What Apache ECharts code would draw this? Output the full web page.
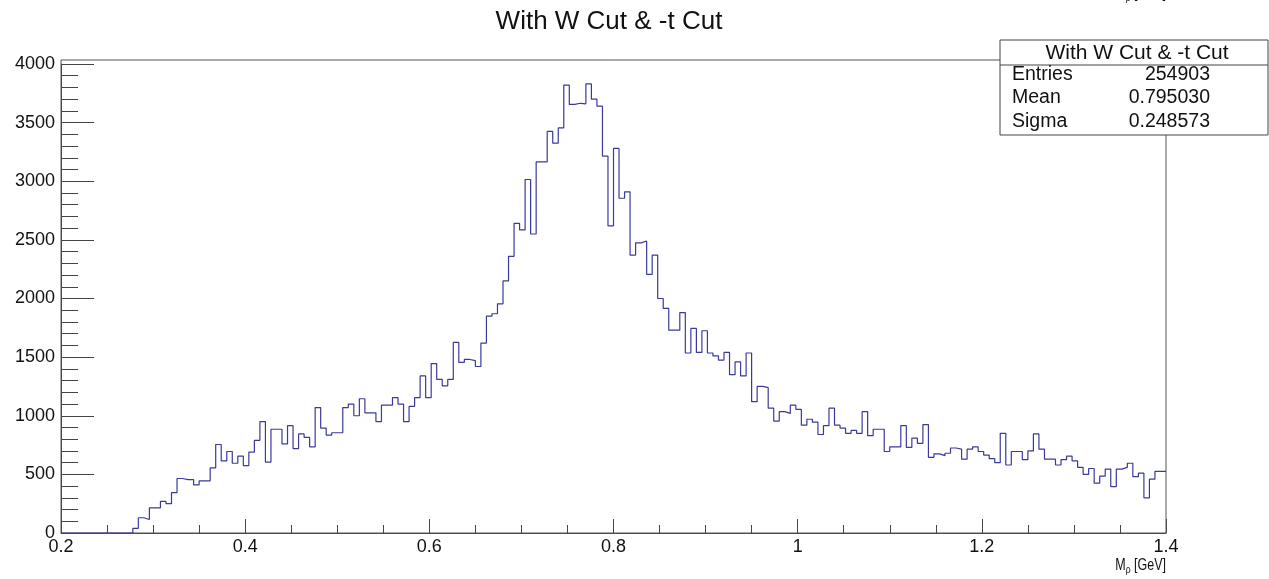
<!DOCTYPE html>
<html>
<head>
<meta charset="utf-8">
<title>With W Cut &amp; -t Cut</title>
<script src="https://cdn.jsdelivr.net/npm/echarts@6/dist/echarts.min.js"></script>
<style>
  html, body { margin: 0; padding: 0; background: #fff; }
  #chart { width: 1269px; height: 579px; }
</style>
</head>
<body>
<div id="chart"></div>
<script>
// histogram binning: 200 bins from 0.2 to 1.4 GeV
const binStart = 0.2;
const binEnd = 1.4;
const binWidth = 0.006;

const counts = [
  0, 0, 0, 0, 0, 0, 0, 0, 0, 0, 0, 0, 0,
  40, 130, 115, 215, 215, 270, 250, 345, 465, 455, 455, 410, 445, 445,
  555, 755, 615, 695, 595, 655, 575, 690, 790, 950, 605, 885, 885, 760,
  915, 720, 845, 815, 735, 1070, 895, 835, 855, 855, 1070, 1100, 1000,
  1145, 1025, 1025, 950, 1090, 1090, 1155, 1100, 950, 1080, 1155, 1340,
  1155, 1445, 1310, 1255, 1310, 1625, 1455, 1480, 1470, 1420, 1620, 1850,
  1870, 1955, 2150, 2360, 2640, 2585, 3015, 2550, 3165, 3165, 3425, 3325,
  3455, 3820, 3655, 3665, 3660, 3830, 3700, 3640, 3215, 2620, 3280, 2855,
  2910, 2370, 2475, 2490, 2205, 2370, 2000, 1915, 1730, 1730, 1880, 1535,
  1745, 1540, 1725, 1535, 1510, 1475, 1540, 1350, 1460, 1340, 1535, 1120,
  1250, 1240, 1065, 955, 1035, 1020, 1090, 1055, 920, 970, 945, 840, 915,
  1065, 920, 895, 850, 875, 850, 1035, 830, 885, 885, 695, 735, 735, 915,
  730, 810, 765, 925, 645, 675, 660, 680, 725, 715, 630, 715, 735, 695,
  665, 635, 600, 850, 580, 695, 695, 625, 700, 845, 715, 630, 630, 580,
  625, 655, 615, 560, 500, 550, 425, 485, 545, 395, 545, 560, 595, 480,
  510, 300, 460, 525, 525,
];

const yTicks = [0, 500, 1000, 1500, 2000, 2500, 3000, 3500, 4000];
const xTicks = [0.2, 0.4, 0.6, 0.8, 1.0, 1.2, 1.4];

const statsTitle = 'With W Cut & -t Cut';
const statsRows = [
  ['Entries', '254903'],
  ['Mean', '0.795030'],
  ['Sigma', '0.248573'],
];

const histChart = () => {
  const chartBlock = document.getElementById('chart');

  const font = '"Liberation Sans", Arial, sans-serif';
  const lineColor = '#3a3a9c';
  const frame = { left: 61, right: 1166, top: 60, bottom: 533 };

  // left edge of every bin + closing point at the upper edge
  const points = counts.map((c, i) => [binStart + i * binWidth, c]);
  points.push([binEnd, counts[counts.length - 1]]);

  const axisTitle = (y) => ({
    type: 'text',
    x: 1166,
    y: y,
    scaleX: 0.78,
    style: {
      text: 'M{s|ρ} [GeV]',
      font: '16px ' + font,
      fill: '#111',
      textAlign: 'right',
      textVerticalAlign: 'middle',
      rich: { s: { fontSize: 11, fontFamily: font, padding: [8, 0, 0, 0], fill: '#111' } },
    },
  });

  const statsGraphics = [
    {
      type: 'rect',
      shape: { x: 1000, y: 40, width: 268, height: 95 },
      style: { fill: '#fff', stroke: '#444', lineWidth: 1 },
      z: 10,
    },
    {
      type: 'line',
      shape: { x1: 1000, y1: 65, x2: 1268, y2: 65 },
      style: { stroke: '#444', lineWidth: 1 },
      z: 11,
    },
    {
      type: 'text',
      x: 1137,
      y: 53,
      style: {
        text: statsTitle,
        font: '21px ' + font,
        fill: '#111',
        textAlign: 'center',
        textVerticalAlign: 'middle',
      },
      z: 11,
    },
  ];
  statsRows.forEach((row, i) => {
    const y = 74.5 + i * 23.5;
    statsGraphics.push({
      type: 'text',
      x: 1012,
      y: y,
      style: { text: row[0], font: '19.5px ' + font, fill: '#111', textVerticalAlign: 'middle' },
      z: 11,
    });
    statsGraphics.push({
      type: 'text',
      x: 1210,
      y: y,
      style: {
        text: row[1],
        font: '19.5px ' + font,
        fill: '#111',
        textAlign: 'right',
        textVerticalAlign: 'middle',
      },
      z: 11,
    });
  });

  const option = {
    animation: false,
    backgroundColor: '#fff',
    grid: {
      left: frame.left,
      right: 1269 - frame.right,
      top: 64,
      bottom: 579 - frame.bottom,
    },
    xAxis: {
      type: 'value',
      min: xTicks[0],
      max: xTicks[xTicks.length - 1],
      interval: 0.2,
      splitLine: { show: false },
      axisLine: { show: true, lineStyle: { color: '#444', width: 1 } },
      axisTick: { show: true, inside: true, length: 14, lineStyle: { color: '#444' } },
      minorTick: { show: true, splitNumber: 4, length: 8, lineStyle: { color: '#444' } },
      axisLabel: {
        fontFamily: font,
        fontSize: 18,
        color: '#111',
        margin: 5,
        formatter: (v) => String(Math.round(v * 10) / 10),
      },
    },
    yAxis: {
      type: 'value',
      min: yTicks[0],
      max: yTicks[yTicks.length - 1],
      interval: 500,
      splitLine: { show: false },
      axisLine: { show: true, lineStyle: { color: '#444', width: 1 } },
      axisTick: { show: true, inside: true, length: 33, lineStyle: { color: '#444' } },
      minorTick: { show: true, splitNumber: 5, length: 17, lineStyle: { color: '#444' } },
      axisLabel: {
        fontFamily: font,
        fontSize: 18,
        color: '#111',
        margin: 6,
        formatter: (v) => String(v),
      },
    },
    series: [
      {
        name: 'hist',
        type: 'line',
        step: 'end',
        data: points,
        showSymbol: false,
        symbol: 'none',
        lineStyle: { color: lineColor, width: 1.2 },
        z: 5,
      },
    ],
    graphic: [
      // frame around the pad
      {
        type: 'rect',
        shape: {
          x: frame.left,
          y: frame.top,
          width: frame.right - frame.left,
          height: frame.bottom - frame.top,
        },
        style: { fill: 'none', stroke: '#555', lineWidth: 1 },
        z: 1,
      },
      {
        type: 'text',
        x: 609,
        y: 22,
        style: {
          text: 'With W Cut & -t Cut',
          font: '26px ' + font,
          fill: '#111',
          textAlign: 'center',
          textVerticalAlign: 'middle',
        },
      },
      axisTitle(566),
      // cut-off copy of the axis title at the very top edge
      axisTitle(-6),
      ...statsGraphics,
    ],
  };

  const chart = echarts.init(chartBlock, null, { renderer: 'canvas' });
  chart.setOption(option);
  window.onresize = () => chart.resize();
};

histChart();
</script>
</body>
</html>
